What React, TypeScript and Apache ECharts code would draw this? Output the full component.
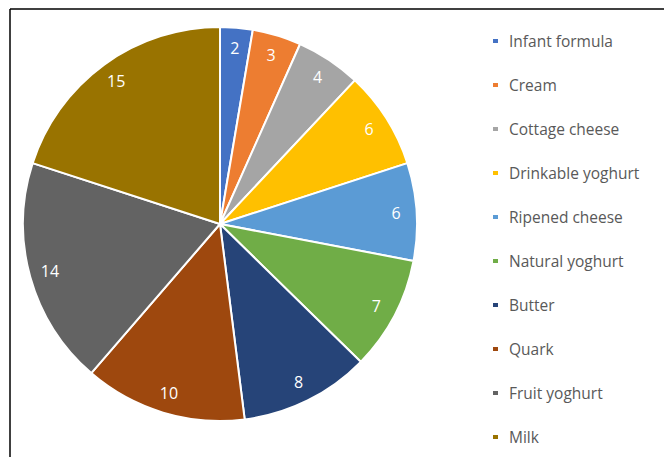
import React, { useEffect, useRef } from "react";
import * as echarts from "echarts";

const categories = [
  "Infant formula",
  "Cream",
  "Cottage cheese",
  "Drinkable yoghurt",
  "Ripened cheese",
  "Natural yoghurt",
  "Butter",
  "Quark",
  "Fruit yoghurt",
  "Milk",
];
const values = [2, 3, 4, 6, 6, 7, 8, 10, 14, 15];
const colors = [
  "#4472C4",
  "#ED7D31",
  "#A5A5A5",
  "#FFC000",
  "#5B9BD5",
  "#70AD47",
  "#264478",
  "#9E480E",
  "#636363",
  "#997300",
];

export default function App() {
  const ref = useRef<HTMLDivElement>(null);
  useEffect(() => {
    if (!ref.current) return;
    const chart = echarts.init(ref.current, null, { renderer: "svg" });
    const data = categories.map((name, i) => ({
      name,
      value: values[i],
      itemStyle: { color: colors[i] },
    }));
    const font = "'Open Sans', 'Noto Sans', sans-serif";
    chart.setOption({
      animation: false,
      backgroundColor: "#ffffff",
      legend: {
        data: categories,
        orient: "vertical",
        left: 491,
        top: 32,
        padding: 0,
        itemWidth: 7,
        itemHeight: 6,
        itemGap: 26,
        icon: "rect",
        textStyle: {
          color: "#595959",
          fontSize: 15.5,
          fontFamily: font,
          lineHeight: 18,
          padding: [0, 0, 0, 5],
        },
      },
      graphic: [
        {
          type: "line",
          shape: { x1: 10, y1: 9, x2: 664, y2: 9 },
          style: { stroke: "#000", lineWidth: 1.5 },
        },
        {
          type: "line",
          shape: { x1: 10, y1: 9, x2: 10, y2: 457 },
          style: { stroke: "#000", lineWidth: 1.5 },
        },
      ],
      series: [
        {
          type: "pie",
          center: [220, 224],
          radius: [0, 197],
          startAngle: 90,
          clockwise: true,
          data,
          label: { show: false },
          labelLine: { show: false },
          itemStyle: { borderColor: "#ffffff", borderWidth: 2 },
          emphasis: { disabled: true },
          silent: true,
        },
        {
          type: "pie",
          center: [220, 224],
          radius: [150, 197],
          startAngle: 90,
          clockwise: true,
          data: categories.map((name, i) => ({
            name,
            value: values[i],
            itemStyle: { color: "transparent" },
          })),
          label: {
            show: true,
            position: "inside",
            formatter: "{c}",
            color: "#ffffff",
            fontSize: 16,
            fontFamily: font,
          },
          labelLine: { show: false },
          emphasis: { disabled: true },
          silent: true,
          legendHoverLink: false,
        },
      ],
    });
    return () => chart.dispose();
  }, []);
  return (
    <div
      ref={ref}
      style={{ position: "absolute", left: 0, top: 0, width: 664, height: 457 }}
    />
  );
}
